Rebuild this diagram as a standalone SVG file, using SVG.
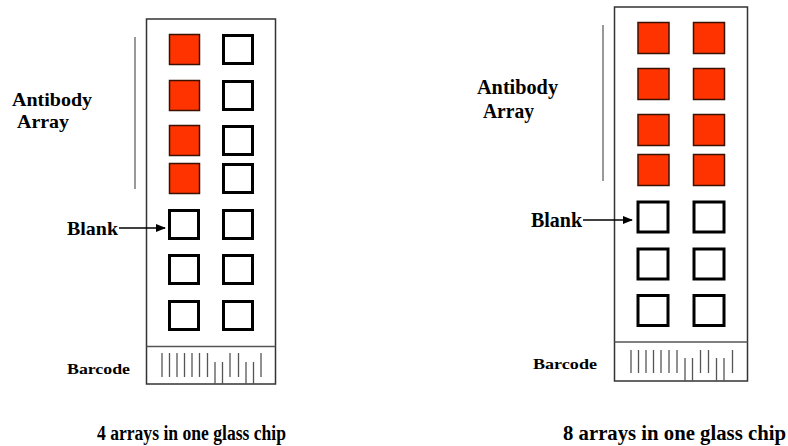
<svg xmlns="http://www.w3.org/2000/svg" width="788" height="446" viewBox="0 0 788 446">
<style>
.chip{fill:#fff;stroke:#333;stroke-width:1.5}
.div{stroke:#555;stroke-width:1.5}
.red{fill:#ff3300;stroke:#3a1000;stroke-width:1.5}
.wht{fill:#fff;stroke:#000;stroke-width:3}
.bar{stroke:#555;stroke-width:1.3}
.brk{stroke:#777;stroke-width:1.5}
.lbl{font-family:"Liberation Serif","Times New Roman",serif;font-weight:bold;fill:#000}
.arr{stroke:#000;stroke-width:1.5;fill:none}
</style>
<defs>
<marker id="ah" markerWidth="10" markerHeight="8" refX="9" refY="4" orient="auto" markerUnits="userSpaceOnUse">
<path d="M0,0 L10,4 L0,8 Z" fill="#000"/>
</marker>
</defs>
<rect width="788" height="446" fill="#fff"/>

<g id="chip-left">
<rect class="chip" x="146.5" y="19" width="129" height="365"/>
<line class="div" x1="146.5" y1="346.5" x2="275.5" y2="346.5"/>
<rect class="red" x="169.5" y="34.5" width="30" height="30"/>
<rect class="red" x="169.5" y="80.5" width="30" height="30"/>
<rect class="red" x="169.5" y="125.5" width="30" height="30"/>
<rect class="red" x="169.5" y="163.5" width="30" height="30"/>
<rect class="wht" x="223.5" y="35.5" width="29" height="28"/>
<rect class="wht" x="223.5" y="81.5" width="29" height="28"/>
<rect class="wht" x="223.5" y="126.5" width="29" height="28"/>
<rect class="wht" x="223.5" y="164.5" width="29" height="28"/>
<rect class="wht" x="169.5" y="210.5" width="29" height="28"/>
<rect class="wht" x="223.5" y="210.5" width="29" height="28"/>
<rect class="wht" x="169.5" y="255.5" width="29" height="28"/>
<rect class="wht" x="223.5" y="255.5" width="29" height="28"/>
<rect class="wht" x="169.5" y="301.5" width="29" height="28"/>
<rect class="wht" x="223.5" y="301.5" width="29" height="28"/>
<g class="bar">
<line x1="162" y1="353" x2="162" y2="377"/>
<line x1="169.5" y1="353" x2="169.5" y2="377"/>
<line x1="177" y1="353" x2="177" y2="377"/>
<line x1="184.5" y1="353" x2="184.5" y2="377"/>
<line x1="192" y1="353" x2="192" y2="377"/>
<line x1="199.5" y1="353" x2="199.5" y2="377"/>
<line x1="207.5" y1="353" x2="207.5" y2="377"/>
<line x1="215" y1="362" x2="215" y2="384"/>
<line x1="222.5" y1="362" x2="222.5" y2="384"/>
<line x1="230" y1="353" x2="230" y2="377"/>
<line x1="238.5" y1="353" x2="238.5" y2="377"/>
<line x1="246" y1="362" x2="246" y2="384"/>
<line x1="253.5" y1="362" x2="253.5" y2="384"/>
<line x1="261" y1="353" x2="261" y2="377"/>
</g>
</g>

<g id="chip-right">
<rect class="chip" x="614.5" y="7" width="133" height="374"/>
<line class="div" x1="614.5" y1="342" x2="747.5" y2="342"/>
<rect class="red" x="638" y="22.5" width="31" height="31"/>
<rect class="red" x="693.5" y="22.5" width="31" height="31"/>
<rect class="red" x="638" y="68.5" width="31" height="31"/>
<rect class="red" x="693.5" y="68.5" width="31" height="31"/>
<rect class="red" x="638" y="114.5" width="31" height="31"/>
<rect class="red" x="693.5" y="114.5" width="31" height="31"/>
<rect class="red" x="638" y="154.5" width="31" height="31"/>
<rect class="red" x="693.5" y="154.5" width="31" height="31"/>
<rect class="wht" x="638" y="202" width="30" height="30"/>
<rect class="wht" x="694" y="202" width="30" height="30"/>
<rect class="wht" x="638" y="249" width="30" height="30"/>
<rect class="wht" x="694" y="249" width="30" height="30"/>
<rect class="wht" x="638" y="295.5" width="30" height="30"/>
<rect class="wht" x="694" y="295.5" width="30" height="30"/>
<g class="bar">
<line x1="631" y1="350" x2="631" y2="373"/>
<line x1="638.5" y1="350" x2="638.5" y2="373"/>
<line x1="646" y1="350" x2="646" y2="373"/>
<line x1="653.5" y1="350" x2="653.5" y2="373"/>
<line x1="661" y1="350" x2="661" y2="373"/>
<line x1="669" y1="350" x2="669" y2="373"/>
<line x1="677" y1="350" x2="677" y2="373"/>
<line x1="685" y1="358" x2="685" y2="381"/>
<line x1="692.5" y1="358" x2="692.5" y2="381"/>
<line x1="700.5" y1="350" x2="700.5" y2="373"/>
<line x1="708.5" y1="350" x2="708.5" y2="373"/>
<line x1="716.5" y1="358" x2="716.5" y2="381"/>
<line x1="724" y1="358" x2="724" y2="381"/>
<line x1="732.5" y1="350" x2="732.5" y2="373"/>
</g>
</g>

<g id="label-left">
<line class="brk" x1="135" y1="37" x2="135" y2="189"/>
<text class="lbl" x="12" y="106" font-size="19" textLength="80" lengthAdjust="spacingAndGlyphs">Antibody</text>
<text class="lbl" x="17" y="128" font-size="19" textLength="52" lengthAdjust="spacingAndGlyphs">Array</text>
<text class="lbl" x="67" y="235" font-size="19" textLength="51" lengthAdjust="spacingAndGlyphs">Blank</text>
<text class="lbl" x="67" y="374" font-size="15" textLength="63" lengthAdjust="spacingAndGlyphs">Barcode</text>
<text class="lbl" x="97" y="440" font-size="20" textLength="189" lengthAdjust="spacingAndGlyphs">4 arrays in one glass chip</text>
</g>

<g id="label-right">
<line class="brk" x1="603" y1="25" x2="603" y2="181"/>
<text class="lbl" x="477" y="94" font-size="20" textLength="81" lengthAdjust="spacingAndGlyphs">Antibody</text>
<text class="lbl" x="483" y="118" font-size="20" textLength="51" lengthAdjust="spacingAndGlyphs">Array</text>
<text class="lbl" x="531" y="227" font-size="20" textLength="51" lengthAdjust="spacingAndGlyphs">Blank</text>
<text class="lbl" x="533" y="369" font-size="15" textLength="64" lengthAdjust="spacingAndGlyphs">Barcode</text>
<text class="lbl" x="563" y="440" font-size="20.5" textLength="223" lengthAdjust="spacingAndGlyphs">8 arrays in one glass chip</text>
</g>

<g id="connectors">
<line class="arr" x1="119" y1="228" x2="165" y2="228" marker-end="url(#ah)"/>
<line class="arr" x1="583" y1="220" x2="632" y2="220" marker-end="url(#ah)"/>
</g>
</svg>
